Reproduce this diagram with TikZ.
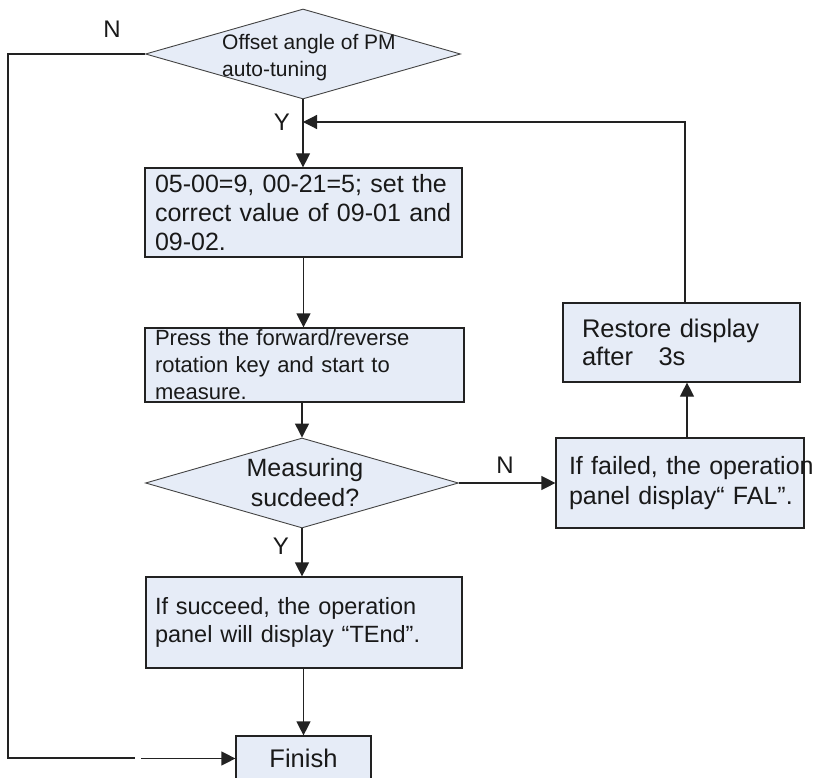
\documentclass[tikz,border=0pt]{standalone}
\usepackage{fontspec}
\setmainfont{Liberation Sans}
\usetikzlibrary{shapes.geometric,arrows.meta,calc}
\definecolor{boxfill}{HTML}{E6ECF7}
\definecolor{edge}{HTML}{222222}
\begin{document}
\begin{tikzpicture}[x=1pt,y=-1pt,
  box/.style={draw=edge, line width=1.2pt, fill=boxfill, rectangle, inner ysep=0pt, align=left, text=black!90},
  dia/.style={draw=edge!85, line width=0.9pt, fill=boxfill, diamond, inner sep=0pt, aspect=3.5},
  arr/.style={draw=edge, line width=1.2pt, -{Triangle[length=14pt,width=14pt]}},
  ln/.style={draw=edge, line width=1.2pt},
  lbl/.style={font=\fontsize{24}{28}\selectfont, inner sep=0pt, text=black!90}]
\useasboundingbox (0,0) rectangle (817,778);
\clip (0,0) rectangle (817,778);
% decision 1
\node[dia, minimum width=315pt, minimum height=90pt] (d1) at (303,54) {};
\node[font=\fontsize{21}{27}\selectfont, align=left, inner sep=0pt, anchor=west, text=black!90] (d1t) at (222,58) {Offset angle of PM\\auto-tuning};
% boxes
\node[box, minimum width=317pt, minimum height=89pt, text width=297pt, inner xsep=10pt,
      font=\fontsize{25}{29}\selectfont] (b1) at (303.5,212.5)
      {05-00=9, 00-21=5; set the\\correct value of 09-01 and\\09-02.};
\node[box, minimum width=319pt, minimum height=74pt, text width=299pt, inner xsep=10pt,
      font=\fontsize{22}{27}\selectfont] (b2) at (304.5,365)
      {Press the forward/reverse\\rotation key and start to\\measure.};
% decision 2
\node[dia, minimum width=313pt, minimum height=90pt] (d2) at (302,483) {};
\node[font=\fontsize{25}{30}\selectfont, align=center, inner sep=0pt, text=black!90] (d2t) at (305,483) {Measuring\\sucdeed?};
\node[box, minimum width=316pt, minimum height=91pt, text width=298pt, inner xsep=9pt,
      font=\fontsize{23.5}{28}\selectfont] (b3) at (304,622.5)
      {If succeed, the operation\\panel will display “TEnd”.};
\node[box, minimum width=135pt, minimum height=45pt, align=center,
      font=\fontsize{25.5}{29}\selectfont] (fin) at (303.5,758.5) {Finish};
\node[box, minimum width=248pt, minimum height=90pt, text width=222pt, inner xsep=13pt,
      font=\fontsize{25}{30}\selectfont] (b4) at (680,483)
      {\mbox{If failed, the operation}\\\mbox{panel display“ FAL”.}};
\node[box, minimum width=237pt, minimum height=79pt, text width=199pt, inner xsep=19pt,
      font=\fontsize{25.5}{27.5}\selectfont] (b5) at (681.5,342.5)
      {Restore display\\after\ \ \ 3s};
% labels
\node[lbl] (n1) at (112,29) {N};
\node[lbl] (y1) at (282,122) {Y};
\node[lbl] (y2) at (281,546) {Y};
\node[lbl] (n2) at (505,465) {N};
% coordinates
\coordinate (yj) at (303,122);
\coordinate (nl) at (8,758);
\coordinate (gapL) at (135,758);
\coordinate (gapR) at (141,758);
% connectors
\draw[arr] (d1.south) -- (d1.south |- b1.north);
\draw[arr] (b1.south) -- (b1.south |- b2.north);
\draw[arr] (b2.south -| d2.north) -- (d2.north);
\draw[arr] (d2.south) -- (d2.south |- b3.north);
\draw[arr] (b3.south -| fin.north) -- (fin.north);
\draw[arr] (d2.east) -- (d2.east -| b4.west);
\draw[arr] ([xshift=7pt]b4.north) -- ([xshift=7pt]b4.north |- b5.south);
\draw[arr] ([xshift=3.5pt]b5.north) |- (yj);
\draw[ln] (d1.west) -| (nl) -- (gapL);
\draw[arr] (gapR |- fin.west) -- (fin.west);
\end{tikzpicture}
\end{document}
